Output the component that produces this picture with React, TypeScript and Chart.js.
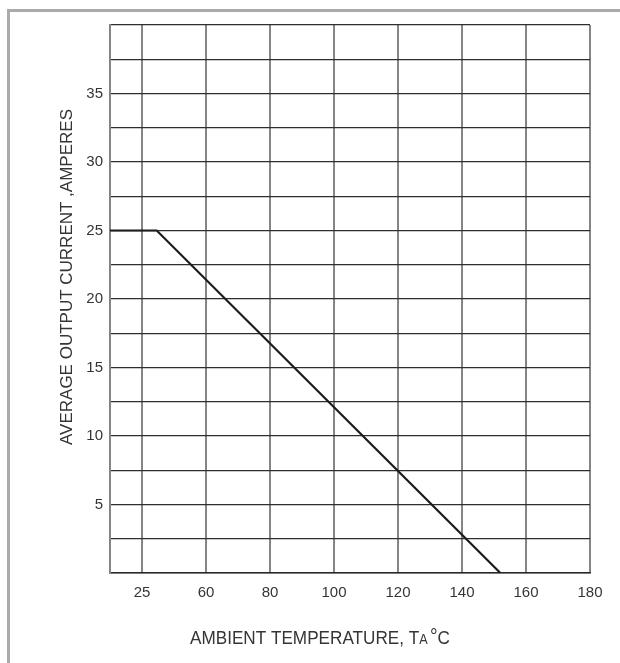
import React, { useEffect, useRef } from "react";
import { Chart, registerables } from "chart.js";

Chart.register(...registerables);

// ---- data ----
const tempPoints = [30, 44.6, 152];
const currentPoints = [25, 25, 0];
const xTickValues = [30, 40, 60, 80, 100, 120, 140, 160, 180];
const xTickLabels = ["", "25", "60", "80", "100", "120", "140", "160", "180"];
const yLabelValues = [5, 10, 15, 20, 25, 30, 35];
const yTitle = "AVERAGE OUTPUT CURRENT ,AMPERES";
const xTitleMain = "AMBIENT TEMPERATURE, T";
const xTitleSub = "A";
const xTitleDeg = "°";
const xTitleUnit = "C";

const FONT = "'Liberation Sans', Arial, sans-serif";
const TEXT = "#353535";

const titlePlugin = {
  id: "customTitles",
  afterDraw(chart: any) {
    const ctx: CanvasRenderingContext2D = chart.ctx;
    const area = chart.chartArea;
    // Y title
    ctx.save();
    ctx.fillStyle = TEXT;
    ctx.font = `17px ${FONT}`;
    ctx.translate(area.left - 43, (area.top + area.bottom) / 2 - 22);
    ctx.rotate(-Math.PI / 2);
    ctx.textAlign = "center";
    ctx.textBaseline = "middle";
    ctx.fillText(yTitle, 0, 0);
    ctx.restore();

    // X title
    ctx.save();
    ctx.fillStyle = TEXT;
    ctx.textAlign = "left";
    ctx.textBaseline = "alphabetic";
    const big = `19px ${FONT}`;
    const small = `14px ${FONT}`;
    const degFont = `21px ${FONT}`;
    ctx.font = big;
    const w1 = ctx.measureText(xTitleMain).width;
    const wSpace = ctx.measureText(" ").width;
    const w4 = ctx.measureText(xTitleUnit).width;
    ctx.font = small;
    const w2 = ctx.measureText(xTitleSub).width;
    ctx.font = degFont;
    const w3 = ctx.measureText(xTitleDeg).width;
    const total = w1 + w2 + wSpace * 0.5 + w3 + w4;
    const target = 260;
    const sx = target / total;
    const cx = (area.left + area.right) / 2 - 30;
    const baseline = area.bottom + 71;
    ctx.translate(cx - target / 2, baseline);
    ctx.scale(sx, 1);
    let x = 0;
    ctx.font = big;
    ctx.fillText(xTitleMain, x, 0);
    x += w1;
    ctx.font = small;
    ctx.fillText(xTitleSub, x, 0);
    x += w2 + wSpace * 0.5;
    ctx.font = degFont;
    ctx.fillText(xTitleDeg, x, -1);
    x += w3;
    ctx.font = big;
    ctx.fillText(xTitleUnit, x, 0);
    ctx.restore();
  },
};

export default function App() {
  const canvasRef = useRef<HTMLCanvasElement | null>(null);

  useEffect(() => {
    document.body.style.margin = "0";
    const canvas = canvasRef.current;
    if (!canvas) return;
    const data = tempPoints.map((t, i) => ({ x: t, y: currentPoints[i] }));
    const chart = new Chart(canvas, {
      type: "line",
      data: {
        datasets: [
          {
            data,
            borderColor: "#1c1c1c",
            borderWidth: 2.2,
            pointRadius: 0,
            tension: 0,
            fill: false,
          },
        ],
      },
      options: {
        animation: false,
        responsive: false,
        devicePixelRatio: 1,
        layout: { padding: { top: 25, right: 30, left: 0, bottom: 0 } },
        plugins: {
          legend: { display: false },
          tooltip: { enabled: false },
          title: { display: false },
        },
        scales: {
          x: {
            type: "linear",
            min: 30,
            max: 180,
            afterBuildTicks: (scale: any) => {
              scale.ticks = xTickValues.map((v) => ({ value: v }));
            },
            afterFit: (scale: any) => {
              scale.height = 90;
            },
            ticks: {
              autoSkip: false,
              maxRotation: 0,
              padding: 11,
              color: TEXT,
              font: { family: FONT, size: 15 },
              callback: (v: any) => {
                const i = xTickValues.indexOf(Number(v));
                return i >= 0 ? xTickLabels[i] : "";
              },
            },
            grid: {
              color: "#858585",
              lineWidth: 2,
              drawTicks: false,
            },
            border: { color: "#2a2a2a", width: 1.5 },
          },
          y: {
            type: "linear",
            min: 0,
            max: 40,
            afterFit: (scale: any) => {
              scale.width = 110;
            },
            ticks: {
              stepSize: 2.5,
              autoSkip: false,
              padding: 7,
              color: TEXT,
              font: { family: FONT, size: 15 },
              callback: (v: any) =>
                yLabelValues.includes(Number(v)) ? String(v) : "",
            },
            grid: {
              color: "#2f2f2f",
              lineWidth: 1.3,
              drawTicks: false,
            },
            border: { color: "#858585", width: 2 },
          },
        },
      },
      plugins: [titlePlugin],
    });
    return () => chart.destroy();
  }, []);

  return (
    <div
      style={{
        position: "relative",
        width: 620,
        height: 663,
        overflow: "hidden",
        background: "#fff",
      }}
    >
      <div
        style={{
          position: "absolute",
          left: 7,
          top: 9,
          width: 640,
          height: 700,
          borderTop: "3px solid #aaaaaa",
          borderLeft: "3px solid #aaaaaa",
          boxSizing: "border-box",
        }}
      />
      <canvas
        ref={canvasRef}
        width={620}
        height={663}
        style={{ position: "absolute", left: 0, top: 0, display: "block" }}
      />
    </div>
  );
}
